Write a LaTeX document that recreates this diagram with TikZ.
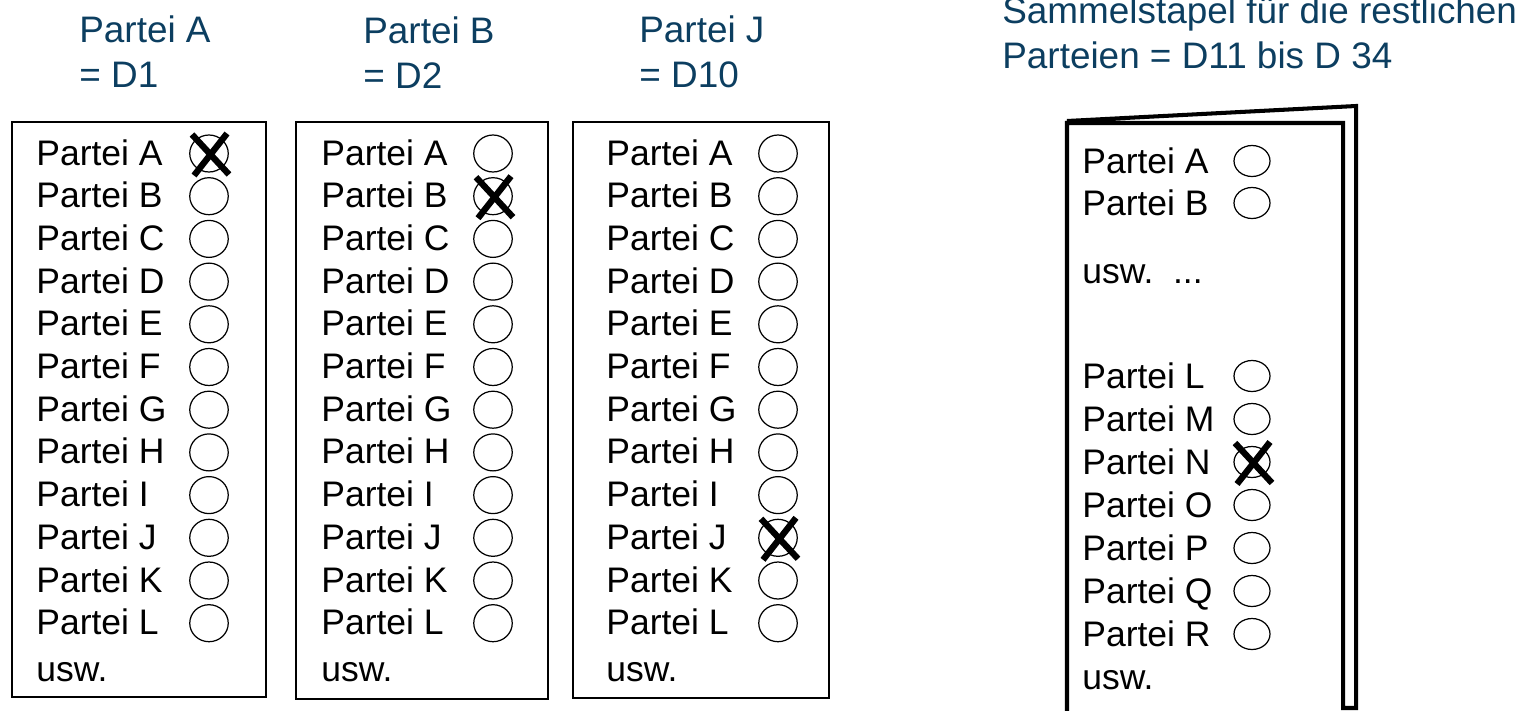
\documentclass[tikz,border=0pt]{standalone}
\usepackage{fontspec}
\setmainfont{Liberation Sans}
\usepackage{xcolor}
\usepackage{tikz}
\usetikzlibrary{shapes.geometric,positioning}

\definecolor{titleblue}{RGB}{12,62,96}

\begin{document}
\begin{tikzpicture}[x=0.02cm, y=-0.02cm,
    title/.style={anchor=north west, align=left, inner sep=0pt, text=titleblue, font=\fontsize{21}{26}\selectfont},
    sheet/.style={draw, line width=1.1pt},
    stack/.style={draw, line width=2.3pt, line join=miter},
    party/.style={anchor=base west, inner sep=0pt, font=\fontsize{20.2}{23}\selectfont},
    ring/.style={draw, ellipse, inner sep=0pt, minimum width=0.77cm, minimum height=0.74cm, line width=0.7pt},
    ringsm/.style={ring, minimum width=0.72cm, minimum height=0.62cm},
    vote/.style={line width=3.6pt}]
    \useasboundingbox (0,0) rectangle (1527,710);

    % titles
    \node[title] (tA) at (79,15) {Partei A\\= D1};
    \node[title] (tB) at (363,16) {Partei B\\= D2};
    \node[title] (tJ) at (639,15) {Partei J\\= D10};
    \node[title] (tRest) at (1002,-4) {Sammelstapel für die restlichen\\Parteien = D11 bis D 34};

    % ballot 1
    \draw[sheet] (12,122) rectangle (266,697);
    \foreach \p [count=\i from 0] in {A,...,L} {
        \node[party] (a\p) at (36,165+42.7*\i) {Partei \p};
        \node[ring] (a\p o) at (209,153.5+42.7*\i) {};
    }
    \node[party] (ausw) at (36,681) {usw.};

    % ballot 2
    \draw[sheet] (296,122) rectangle (548,699);
    \foreach \p [count=\i from 0] in {A,...,L} {
        \node[party] (b\p) at (321,165+42.7*\i) {Partei \p};
        \node[ring] (b\p o) at (493,153.5+42.7*\i) {};
    }
    \node[party] (busw) at (321,681) {usw.};

    % ballot 3
    \draw[sheet] (573,122) rectangle (829,698);
    \foreach \p [count=\i from 0] in {A,...,L} {
        \node[party] (c\p) at (606,165+42.7*\i) {Partei \p};
        \node[ring] (c\p o) at (778,153.5+42.7*\i) {};
    }
    \node[party] (cusw) at (606,681) {usw.};

    % stack of the rest
    \draw[stack] (1067,712) -- (1067,123) -- (1343,123) -- (1343,708) -- (1356,708) -- (1356,106) -- (1067,121);
    \node[party] (dA) at (1082,173) {Partei A};
    \node[ringsm] (dAo) at (1252,161) {};
    \node[party] (dB) at (1082,215) {Partei B};
    \node[ringsm] (dBo) at (1252,203) {};
    \node[party] (dmore) at (1082,283) {usw.\ \ ...};
    \foreach \p [count=\i from 0] in {L,...,R} {
        \node[party] (d\p) at (1082,388+43*\i) {Partei \p};
        \node[ringsm] (d\p o) at (1252,376+43*\i) {};
    }
    \node[party] (dusw) at (1082,689) {usw.};

    % crosses
    \foreach \r in {aAo,bBo,cJo,dNo} {
        \draw[vote] ([shift={(-17,-19)}]\r.center) -- ([shift={(20,21)}]\r.center);
        \draw[vote] ([shift={(18,-20)}]\r.center) -- ([shift={(-15,22)}]\r.center);
    }
\end{tikzpicture}
\end{document}
